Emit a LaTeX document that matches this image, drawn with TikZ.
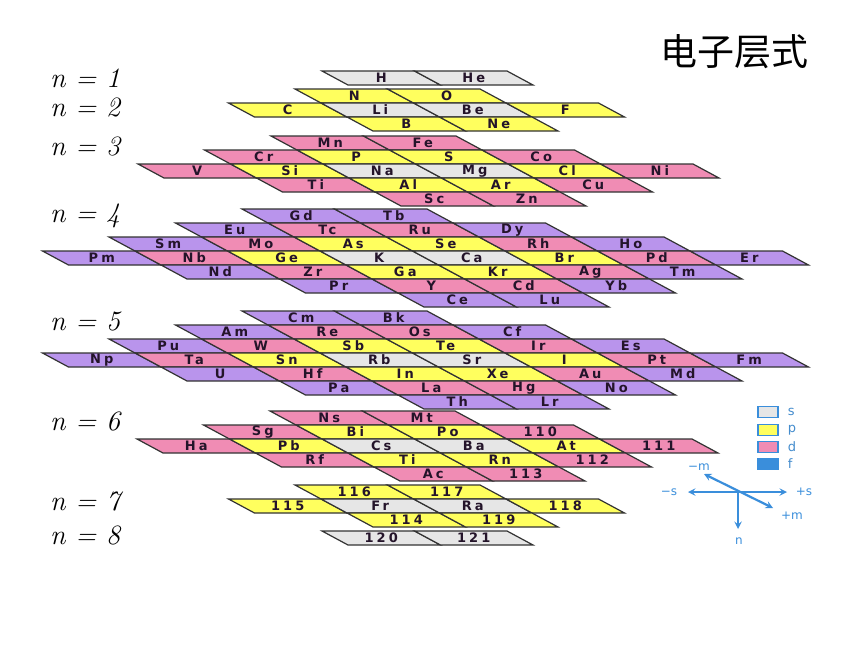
\documentclass[tikz,border=0pt]{standalone}
\usepackage{fontspec}
\newfontfamily\cjk{Noto Sans CJK SC}
\newfontfamily\cellfont{DejaVu Sans Bold}[LetterSpace=24]
\newfontfamily\axfont{DejaVu Sans}
\usetikzlibrary{positioning}

\definecolor{orbS}{HTML}{E6E6E6}
\definecolor{orbP}{HTML}{FFFF5E}
\definecolor{orbD}{HTML}{F08CB4}
\definecolor{orbF}{HTML}{B994EC}
\definecolor{ink}{HTML}{24142A}
\definecolor{axblue}{HTML}{3A8EDB}

\def\cw{92.5}
\def\cs{26}
\def\ch{14}

% one strip of cells: name, left x, top y, list colour/label
\newcommand{\cellrow}[4]{%
  \foreach \col/\lab [count=\i from 0] in {#4} {
    \path[cell, fill=\col] ({#2+\i*\cw},#3) -- ++(\cw,0) -- ++(\cs,\ch) -- ++(-\cw,0) -- cycle;
    \node[sym] (#1-\i) at ({#2+(\i+0.5)*\cw+0.5*\cs},{#3+0.5*\ch}) {\lab};
  }}

\begin{document}
\begin{tikzpicture}[x=1pt, y=-1pt, >=stealth,
    cell/.style={draw=black!80, line width=1.2pt},
    sym/.style={font=\cellfont\fontsize{13}{14}\selectfont, text=ink, inner sep=0pt},
    nlab/.style={font=\fontsize{28}{30}\selectfont\itshape, anchor=west, inner sep=0pt},
    legbox/.style={draw=axblue, line width=1.2pt, minimum width=20pt, minimum height=11pt, inner sep=0pt},
    legtxt/.style={font=\axfont\fontsize{13}{14}\selectfont, text=axblue!85!gray, inner sep=0pt},
    axis/.style={draw=axblue, line width=2.2pt},
    axtxt/.style={font=\axfont\fontsize{12}{13}\selectfont, text=axblue, inner sep=0pt}]
  \useasboundingbox (0,0) rectangle (860,645);

  % Title
  \node (title) at (734,52) {\cjk\fontsize{37}{39}\selectfont 电子层式};

  % Shell labels
  \node[nlab] (n1) at (50,78) {n = 1};
  \node[nlab] (n2) at (50,107) {n = 2};
  \node[nlab] (n3) at (50,146) {n = 3};
  \node[nlab] (n4) at (50,216) {n = 4};
  \node[nlab] (n5) at (50,321) {n = 5};
  \node[nlab] (n6) at (50,421) {n = 6};
  \node[nlab] (n7) at (50,501) {n = 7};
  \node[nlab] (n8) at (50,535) {n = 8};

  % n = 1
  \cellrow{a1}{322}{71}{orbS/H, orbS/He}

  % n = 2
  \cellrow{b1}{295}{89}{orbP/N, orbP/O}
  \cellrow{b2}{228.5}{103}{orbP/C, orbS/Li, orbS/Be, orbP/F}
  \cellrow{b3}{347}{117}{orbP/B, orbP/Ne}

  % n = 3
  \cellrow{c1}{271}{136}{orbD/Mn, orbD/Fe}
  \cellrow{c2}{204.5}{150}{orbD/Cr, orbP/P, orbP/S, orbD/Co}
  \cellrow{c3}{138}{164}{orbD/V, orbP/Si, orbS/Na, orbS/Mg, orbP/Cl, orbD/Ni}
  \cellrow{c4}{256.5}{178}{orbD/Ti, orbP/Al, orbP/Ar, orbD/Cu}
  \cellrow{c5}{375}{192}{orbD/Sc, orbD/Zn}

  % n = 4
  \cellrow{d1}{242}{209}{orbF/Gd, orbF/Tb}
  \cellrow{d2}{175.5}{223}{orbF/Eu, orbD/Tc, orbD/Ru, orbF/Dy}
  \cellrow{d3}{109}{237}{orbF/Sm, orbD/Mo, orbP/As, orbP/Se, orbD/Rh, orbF/Ho}
  \cellrow{d4}{42.5}{251}{orbF/Pm, orbD/Nb, orbP/Ge, orbS/K, orbS/Ca, orbP/Br, orbD/Pd, orbF/Er}
  \cellrow{d5}{161}{265}{orbF/Nd, orbD/Zr, orbP/Ga, orbP/Kr, orbD/Ag, orbF/Tm}
  \cellrow{d6}{279.5}{279}{orbF/Pr, orbD/Y, orbD/Cd, orbF/Yb}
  \cellrow{d7}{398}{293}{orbF/Ce, orbF/Lu}

  % n = 5
  \cellrow{e1}{242}{311}{orbF/Cm, orbF/Bk}
  \cellrow{e2}{175.5}{325}{orbF/Am, orbD/Re, orbD/Os, orbF/Cf}
  \cellrow{e3}{109}{339}{orbF/Pu, orbD/W, orbP/Sb, orbP/Te, orbD/Ir, orbF/Es}
  \cellrow{e4}{42.5}{353}{orbF/Np, orbD/Ta, orbP/Sn, orbS/Rb, orbS/Sr, orbP/I, orbD/Pt, orbF/Fm}
  \cellrow{e5}{161}{367}{orbF/U, orbD/Hf, orbP/In, orbP/Xe, orbD/Au, orbF/Md}
  \cellrow{e6}{279.5}{381}{orbF/Pa, orbD/La, orbD/Hg, orbF/No}
  \cellrow{e7}{398}{395}{orbF/Th, orbF/Lr}

  % n = 6
  \cellrow{f1}{270}{411}{orbD/Ns, orbD/Mt}
  \cellrow{f2}{203.5}{425}{orbD/Sg, orbP/Bi, orbP/Po, orbD/110}
  \cellrow{f3}{137}{439}{orbD/Ha, orbP/Pb, orbS/Cs, orbS/Ba, orbP/At, orbD/111}
  \cellrow{f4}{255.5}{453}{orbD/Rf, orbP/Ti, orbP/Rn, orbD/112}
  \cellrow{f5}{374}{467}{orbD/Ac, orbD/113}

  % n = 7
  \cellrow{g1}{295}{485}{orbP/116, orbP/117}
  \cellrow{g2}{228.5}{499}{orbP/115, orbS/Fr, orbS/Ra, orbP/118}
  \cellrow{g3}{347}{513}{orbP/114, orbP/119}

  % n = 8
  \cellrow{h1}{322}{531}{orbS/120, orbS/121}

  % Legend
  \node[legbox, fill=orbS] (key-s) at (768,412) {};
  \node[legbox, fill=orbP] (key-p) at (768,430) {};
  \node[legbox, fill=orbD] (key-d) at (768,447) {};
  \node[legbox, fill=axblue] (key-f) at (768,464) {};
  \node[legtxt, right=9pt of key-s] (txt-s) {s};
  \node[legtxt, right=9pt of key-p] (txt-p) {p};
  \node[legtxt, right=9pt of key-d] (txt-d) {d};
  \node[legtxt, right=9pt of key-f] (txt-f) {f};

  % Axes
  \coordinate (o) at (738,492);
  \coordinate (sm) at (688,492);
  \coordinate (sp) at (787,492);
  \coordinate (mm) at (704,474);
  \coordinate (mp) at (773,508);
  \coordinate (nn) at (738,529);
  \draw[axis, <->] (sm) -- (sp);
  \draw[axis, <->] (mm) -- (mp);
  \draw[axis, ->] (o) -- (nn);
  \node[axtxt] (lab-sm) at (669,492) {−s};
  \node[axtxt] (lab-sp) at (804,492) {+s};
  \node[axtxt] (lab-mm) at (699,467) {−m};
  \node[axtxt] (lab-mp) at (792,516) {+m};
  \node[axtxt] (lab-n) at (739,541) {n};
\end{tikzpicture}
\end{document}
